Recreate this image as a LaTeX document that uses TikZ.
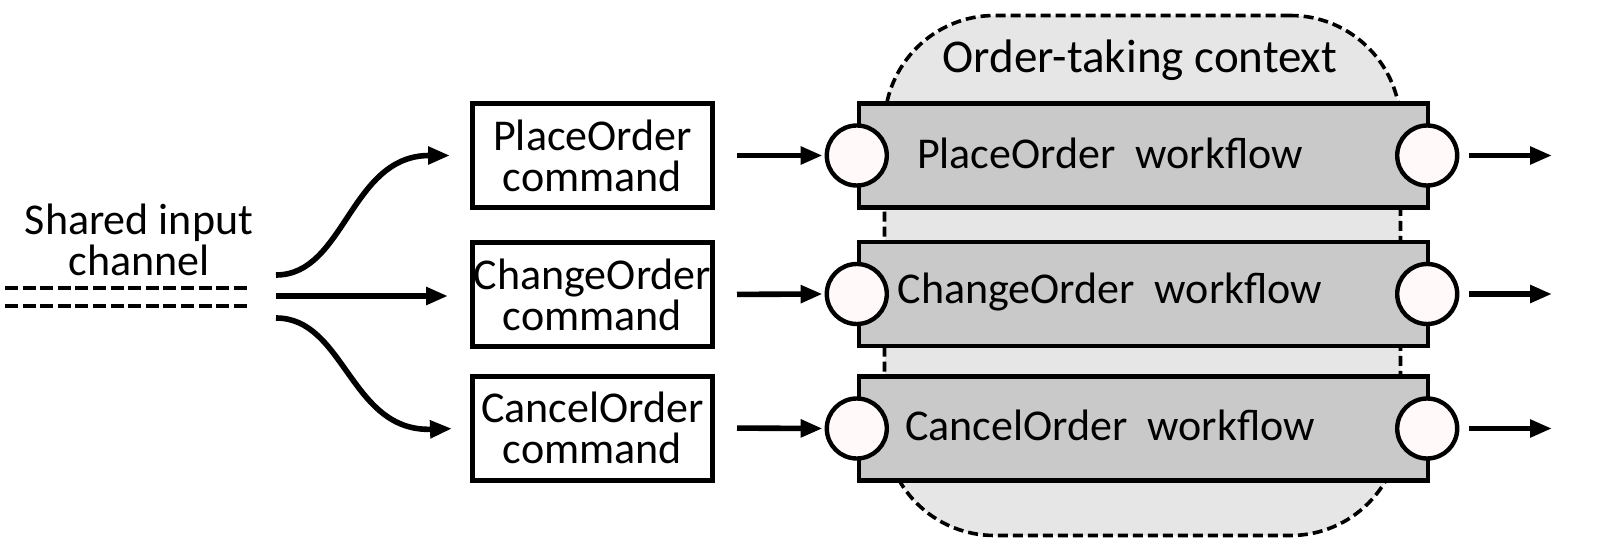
\documentclass[tikz,border=0pt]{standalone}
\usepackage{fontspec}
\setmainfont{Carlito}
\usetikzlibrary{arrows.meta}
\definecolor{ctxfill}{HTML}{E6E6E6}
\definecolor{wffill}{HTML}{C9C9C9}
\definecolor{portfill}{HTML}{FFFAF9}
\begin{document}
\begin{tikzpicture}[x=0.5pt,y=-0.5pt,
  txt/.style={font=\fontsize{22}{20.5}\selectfont,align=center,inner sep=0pt},
  cmdbox/.style={txt,draw,line width=2.5pt,fill=white,minimum width=120pt,minimum height=52pt},
  wfbox/.style={draw,line width=2.2pt,fill=wffill,minimum width=284.5pt,minimum height=52pt,inner sep=0pt},
  port/.style={circle,draw,line width=2.2pt,fill=portfill,minimum size=30pt,inner sep=0pt},
  ctxbox/.style={draw,dash pattern=on 5pt off 2.5pt,line width=1.8pt,fill=ctxfill,rounded corners=55pt,minimum width=258pt,minimum height=260pt,inner sep=0pt},
  arr/.style={line width=2.8pt,-{Triangle[length=11pt,width=8.5pt]}},
  chan/.style={line width=2.2pt,dash pattern=on 6.5pt off 2.3pt}
]
\useasboundingbox (0,0) rectangle (1602,556);

% context
\node[ctxbox] (ctx) at (1142.5,275.5) {};
\node[txt,font=\fontsize{23.5}{24}\selectfont] (ctxlabel) at (1140,60) {Order-taking context};

% workflows
\node[wfbox] (w1) at (1143.5,155.5) {};
\node[wfbox] (w2) at (1143.5,294) {};
\node[wfbox] (w3) at (1143.5,428.5) {};
\node[txt] (w1t) at (1110,153) {PlaceOrder\ \ workflow};
\node[txt] (w2t) at (1110,292) {ChangeOrder\ \ workflow};
\node[txt] (w3t) at (1110,425) {CancelOrder\ \ workflow};

% ports
\node[port] (p1l) at (w1.west) {};
\node[port] (p2l) at (w2.west) {};
\node[port] (p3l) at (w3.west) {};
\node[port] (p1r) at ([xshift=-1.5pt]w1.east) {};
\node[port] (p2r) at ([xshift=-1.5pt]w2.east) {};
\node[port] (p3r) at ([xshift=-1.5pt]w3.east) {};

% command boxes
\node[cmdbox] (c1) at (592.5,155.5) {PlaceOrder\\command};
\node[cmdbox] (c2) at (592.5,294.5) {ChangeOrder\\command};
\node[cmdbox] (c3) at (592.5,428) {CancelOrder\\command};

% shared channel
\coordinate (ch1a) at (5,288);
\coordinate (ch1b) at (250,288);
\coordinate (ch2a) at (5,306);
\coordinate (ch2b) at (250,306);
\draw[chan] (ch1a) -- (ch1b);
\draw[chan] (ch2a) -- (ch2b);
\node[txt] (chlabel) at (139,240) {Shared input\\channel};

\coordinate (s1) at (276,275);
\coordinate (s2) at (276,296);
\coordinate (s3) at (276,318);
\draw[arr,shorten >=10pt] (s1) .. controls (345,275) and (350,155.5) .. (c1.west);
\draw[arr,shorten >=11pt] (s2) -- (s2 -| c2.west);
\draw[arr,shorten >=9pt] (s3) .. controls (345,318) and (350,432) .. (c3.west);

% command -> workflow
\draw[arr,shorten <=11pt,shorten >=1pt] (c1.east) -- (p1l.west);
\draw[arr,shorten <=11pt,shorten >=1pt] (c2.east) -- (p2l.west);
\draw[arr,shorten <=11pt,shorten >=1pt] (c3.east) -- (p3l.west);

% outputs
\coordinate (o1) at (1552,155.5);
\coordinate (o2) at (1552,294);
\coordinate (o3) at (1552,428.5);
\draw[arr,shorten <=5pt] (p1r) -- (o1);
\draw[arr,shorten <=5pt] (p2r) -- (o2);
\draw[arr,shorten <=5pt] (p3r) -- (o3);
\end{tikzpicture}
\end{document}
